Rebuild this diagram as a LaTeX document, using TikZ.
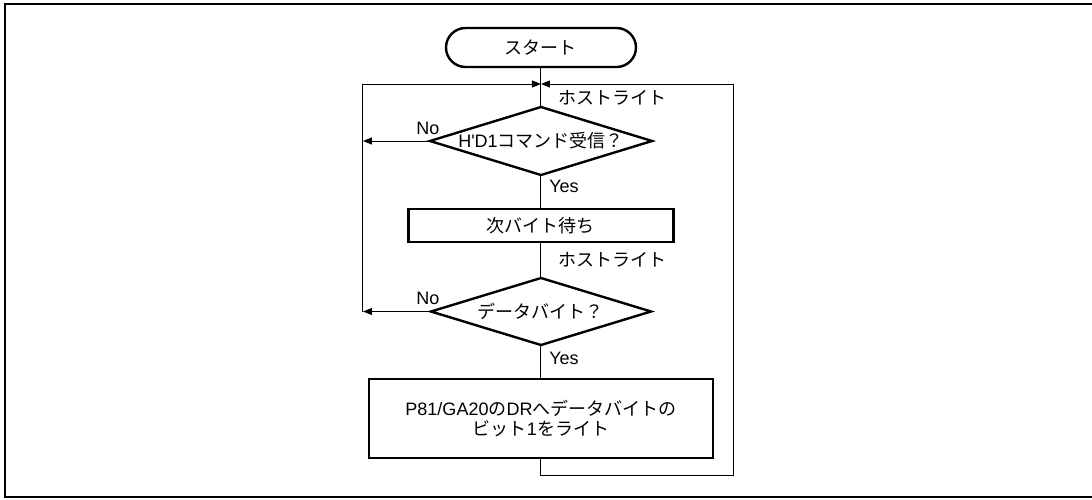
\documentclass[tikz,border=0pt]{standalone}
\usepackage{fontspec}
\setmainfont{Noto Sans CJK JP}[Ligatures=TeXOff]
\newfontfamily\latinfont{Liberation Sans}[Ligatures=TeXOff]
\newcommand{\lt}[1]{{\latinfont #1}}
\usetikzlibrary{positioning, shapes.geometric, arrows.meta}

\begin{document}
\begin{tikzpicture}[
    >={Triangle[length=4.5pt, width=3.5pt]},
    font=\fontsize{9}{10}\selectfont,
    node distance=17pt,
    line/.style={
        draw,
        line width=0.5pt
    },
    arrow/.style={
        line,
        ->
    },
    terminal/.style={
        rectangle,
        rounded corners=9.75pt,
        draw,
        line width=1.2pt,
        outer sep=0pt,
        minimum width=95pt,
        minimum height=19.5pt
    },
    process/.style={
        rectangle,
        draw,
        line width=1.2pt,
        outer sep=0pt,
        align=center,
        inner sep=0pt
    },
    decision/.style={
        diamond,
        draw,
        line width=1.2pt,
        outer sep=0pt,
        aspect=3.3,
        inner xsep=-7pt,
        inner ysep=-1pt,
        minimum width=111pt,
        minimum height=34pt
    },
    note/.style={
        inner sep=1pt
    }
]

    % Page and frame
    \useasboundingbox (-270.5pt,23.75pt) rectangle (275.5pt,-225.75pt);
    \draw[line width=1pt] (-268pt,21.75pt) rectangle (290pt,-224.75pt);

    % Start
    \node[terminal] (start) {スタート};

    % First check
    \node[decision, below=20pt of start] (d1) {\lt{H'D1}コマンド受信？};
    \draw[line] (start) -- (d1);

    % Wait
    \node[process, below=17pt of d1, minimum width=132.5pt, minimum height=16.5pt] (wait) {次バイト待ち};
    \draw[line] (d1) -- (wait);

    % Second check
    \node[decision, below=18pt of wait, minimum width=110pt, minimum height=33.5pt] (d2) {データバイト？};
    \draw[line] (wait) -- (d2);

    % Write
    \node[process, below=17pt of d2, minimum width=172pt, minimum height=39.5pt] (write) {\lt{P81/GA20}の\lt{DR}へデータバイトの\\ビット\lt{1}をライト};
    \draw[line] (d2) -- (write);

    % Loop points
    \coordinate[below=8.5pt of start.south] (merge);
    \coordinate[left=89pt of merge] (lcorner);
    \coordinate[right=96pt of merge] (rcorner);
    \coordinate[below=8.5pt of write.south] (bottom);

    % No branches
    \draw[arrow] (d1.west) -- (d1.west -| lcorner);
    \draw[arrow] (d2.west) -- (d2.west -| lcorner);
    \draw[arrow] (d2.west -| lcorner) -- (lcorner) -- (merge);

    % Back to top
    \draw[arrow] (write.south) -- (bottom) -| (rcorner) -- (merge);

    % Labels
    \node[note, right=7.5pt of merge, yshift=-7pt] (host1) {ホストライト};
    \node[note, right=7.5pt of wait.south, yshift=-9pt] (host2) {ホストライト};
    \node[note, font=\latinfont\fontsize{9}{10}\selectfont] (no1) at ([xshift=-1pt, yshift=6.5pt]d1.west) {No};
    \node[note, font=\latinfont\fontsize{9}{10}\selectfont] (no2) at ([xshift=-1.5pt, yshift=6.75pt]d2.west) {No};
    \node[note, font=\latinfont\fontsize{9}{10}\selectfont] (yes1) at ([xshift=11.5pt, yshift=-5.5pt]d1.south) {Yes};
    \node[note, font=\latinfont\fontsize{9}{10}\selectfont] (yes2) at ([xshift=11.5pt, yshift=-6.5pt]d2.south) {Yes};

\end{tikzpicture}
\end{document}
